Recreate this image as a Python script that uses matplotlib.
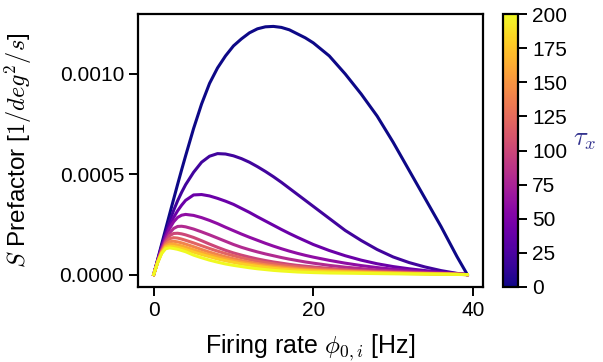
import matplotlib
matplotlib.use("Agg")
import matplotlib.pyplot as plt
import numpy as np

plt.rcParams['font.family'] = ['Liberation Sans', 'DejaVu Sans']
plt.rcParams['mathtext.fontset'] = 'cm'

# firing rate grid (Hz)
rate = [0, 0.5, 1, 1.5, 2, 2.5, 3, 3.5, 4, 5, 6, 7, 8, 9, 10, 11, 12, 13, 14, 15, 16, 17,
        18, 19, 20, 22, 24, 26, 28, 30, 32, 34, 36, 37, 38, 39.3]

taus = [0, 20, 40, 60, 80, 100, 120, 140, 160, 180, 200]

# S prefactor values, in units of 1e-5
s_tau0 = [0, 7.6, 15.2, 22.7, 30.2, 37.6, 45, 52.2, 59.2, 72.8, 85, 95.3, 103, 109, 114,
          117.5, 120.5, 122.5, 123.5, 123.7, 123.2, 122, 120, 118, 115.5, 109, 100, 90, 79,
          66, 52, 38, 24, 16.5, 9, 0]
s_tau20 = [0, 7.2, 14.2, 20.7, 26.7, 32, 36.8, 41, 44.8, 51, 56, 59, 60.3, 60.1, 59.2, 57.8,
           56, 53.8, 51.4, 48.8, 46, 43, 40, 37, 34, 28, 22, 17, 12.5, 8.8, 6, 3.8, 2, 1.3,
           0.6, 0]
s_tau40 = [0, 7, 13.6, 19.4, 24.3, 28.5, 31.8, 34.6, 37, 39.7, 39.9, 39.2, 38, 36.6, 35, 33,
           31, 28.8, 26.7, 24.6, 22.5, 20.5, 18.6, 16.8, 15, 12, 9.4, 7.2, 5.4, 4, 2.9, 2,
           1.2, 0.85, 0.5, 0]
s_tau60 = [0, 6.8, 13, 18.5, 23, 26.3, 28.5, 29.6, 30, 29.5, 28.4, 27, 25.4, 23.6, 21.9,
           20.2, 18.6, 17.1, 15.6, 14.2, 12.9, 11.7, 10.6, 9.6, 8.7, 7.1, 5.7, 4.5, 3.5, 2.7,
           2, 1.45, 0.9, 0.65, 0.4, 0]
s_tau80 = [0, 6.6, 12.4, 17.2, 20.8, 23, 24, 24.1, 23.8, 22.7, 21.3, 19.8, 18.2, 16.6, 15,
           13.6, 12.4, 11.3, 10.3, 9.4, 8.5, 7.7, 7, 6.3, 5.7, 4.6, 3.7, 3, 2.3, 1.8, 1.35,
           0.95, 0.6, 0.42, 0.25, 0]
s_tau100 = [0, 6.5, 12, 16.4, 19.4, 20.5, 20.6, 20.3, 19.8, 18.5, 16.9, 15.2, 13.6, 12.1,
            10.8, 9.7, 8.7, 7.8, 7, 6.3, 5.7, 5.1, 4.6, 4.2, 3.8, 3.1, 2.5, 2, 1.6, 1.25,
            0.95, 0.7, 0.45, 0.3, 0.18, 0]
s_tau120 = [0, 6.4, 11.6, 15.6, 17.9, 18.4, 18.2, 17.7, 17.1, 15.8, 14.4, 13, 11.7, 10.5,
            9.4, 8.4, 7.5, 6.7, 6, 5.4, 4.8, 4.3, 3.9, 3.5, 3.2, 2.6, 2.1, 1.7, 1.35, 1.05,
            0.8, 0.6, 0.38, 0.26, 0.15, 0]
s_tau140 = [0, 6.3, 11.3, 14.9, 16.4, 16.6, 16.3, 15.8, 15.2, 13.9, 12.5, 11.2, 10, 8.9,
            7.9, 7, 6.2, 5.5, 4.9, 4.4, 3.9, 3.5, 3.1, 2.8, 2.5, 2.1, 1.7, 1.4, 1.1, 0.85,
            0.65, 0.5, 0.32, 0.22, 0.13, 0]
s_tau160 = [0, 6.2, 11, 14.2, 15.2, 15.2, 14.8, 14.3, 13.7, 12.4, 11.1, 9.9, 8.8, 7.8, 6.9,
            6.1, 5.4, 4.8, 4.2, 3.7, 3.3, 2.9, 2.6, 2.3, 2.1, 1.75, 1.45, 1.2, 0.95, 0.75,
            0.57, 0.42, 0.28, 0.2, 0.12, 0]
s_tau180 = [0, 6.1, 10.8, 13.6, 14.2, 14, 13.6, 13.1, 12.5, 11.2, 10, 8.9, 7.8, 6.9, 6.1,
            5.3, 4.7, 4.1, 3.6, 3.1, 2.7, 2.4, 2.1, 1.9, 1.7, 1.4, 1.2, 1, 0.8, 0.63, 0.48,
            0.36, 0.24, 0.17, 0.1, 0]
s_tau200 = [0, 6, 10.5, 12.9, 13.3, 13, 12.6, 12, 11.4, 9.7, 8.4, 7.2, 6.2, 5.3, 4.6, 4,
            3.4, 2.9, 2.5, 2.1, 1.8, 1.55, 1.3, 1.15, 1, 0.8, 0.7, 0.6, 0.5, 0.4, 0.3, 0.22,
            0.15, 0.11, 0.07, 0]

curves = [s_tau0, s_tau20, s_tau40, s_tau60, s_tau80, s_tau100, s_tau120, s_tau140,
          s_tau160, s_tau180, s_tau200]

fig = plt.figure(figsize=(6.03, 3.62), dpi=100)
ax = fig.add_axes([138/603, 75/362, 345/603, 273/362])
cax = fig.add_axes([503/603, 75/362, 15/603, 273/362])

cmap = plt.get_cmap('plasma')
norm = matplotlib.colors.Normalize(vmin=0, vmax=200)

for tau, s in zip(taus, curves):
    ax.plot(rate, np.array(s) * 1e-5, color=cmap(norm(tau)), lw=2.2)

ax.set_xticks([0, 20, 40])
ax.set_yticks([0, 0.0005, 0.0010])
ax.yaxis.set_major_formatter(matplotlib.ticker.FormatStrFormatter('%.4f'))
ax.set_xlabel(r'Firing rate $\phi_{0,i}$ [Hz]', fontsize=18)
ax.set_ylabel(r'$S$ Prefactor [$1/deg^2/s$]', fontsize=17.5)
ax.xaxis.set_label_coords(0.5, -0.165)
ax.yaxis.set_label_coords(-0.30, 0.5)
ax.tick_params(labelsize=15, width=1.4, length=6.5)
for sp in ax.spines.values():
    sp.set_linewidth(1.6)

sm = matplotlib.cm.ScalarMappable(norm=norm, cmap=cmap)
cbar = fig.colorbar(sm, cax=cax, ticks=np.arange(0, 201, 25))
cbar.ax.tick_params(labelsize=15, width=1.4, length=6.5)
cbar.outline.set_linewidth(1.6)
fig.text(585/603, 1 - 140/362, r'$\tau_x$', fontsize=19, color='#34348f',
         ha='center', va='center')

fig.savefig('out.png', dpi=100)
